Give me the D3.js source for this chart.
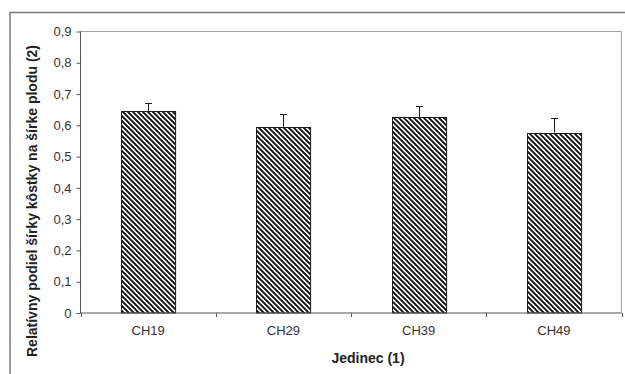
<!DOCTYPE html>
<html>
<head>
<meta charset="utf-8">
<script src="https://cdn.jsdelivr.net/npm/d3@7"></script>
<style>
  body { margin: 0; background: #ffffff; }
  text { font-family: 'Liberation Sans', Arial, sans-serif; }
</style>
</head>
<body>
<script>
const categories = ['CH19', 'CH29', 'CH39', 'CH49'];
const means = [0.645, 0.595, 0.627, 0.577];
const errors = [0.026, 0.042, 0.034, 0.047];
const yTicks = [0, 0.1, 0.2, 0.3, 0.4, 0.5, 0.6, 0.7, 0.8, 0.9];

const width = 625, height = 374;
const plot = { left: 80.5, right: 621.5, top: 31.5, bottom: 313 };

const svg = d3.select('body').append('svg')
  .attr('width', width)
  .attr('height', height);

// hatch pattern (dark downward diagonal)
const tile = 5;
const defs = svg.append('defs');
const pat = defs.append('pattern')
  .attr('id', 'hatch')
  .attr('patternUnits', 'userSpaceOnUse')
  .attr('width', tile)
  .attr('height', tile);
pat.append('rect').attr('width', tile).attr('height', tile).attr('fill', '#f4f4f4');
for (let r = 0; r < tile; r++) {
  for (let k = 0; k < 3; k++) {
    pat.append('rect')
      .attr('x', (r + k) % tile)
      .attr('y', r)
      .attr('width', 1)
      .attr('height', 1)
      .attr('fill', k === 1 ? '#111' : '#444');
  }
}

// outer chart frame
svg.append('path')
  .attr('d', `M10,${height}V12.5H${width}`)
  .attr('fill', 'none')
  .attr('stroke', '#7a7a7a')
  .attr('stroke-width', 1.5);

const x = d3.scaleBand()
  .domain(categories)
  .range([plot.left, plot.right])
  .paddingInner(0.6)
  .paddingOuter(0.3);

const y = d3.scaleLinear()
  .domain([0, 0.9])
  .range([plot.bottom, plot.top]);

// plot area border (top & right)
svg.append('path')
  .attr('d', `M${plot.left},${plot.top}H${plot.right}V${plot.bottom}`)
  .attr('fill', 'none')
  .attr('stroke', '#a0a0a0')
  .attr('stroke-width', 1);

// bars
svg.append('g')
  .selectAll('rect')
  .data(categories)
  .enter()
  .append('rect')
  .attr('x', d => Math.round(x(d)) + 0.5)
  .attr('y', (d, i) => Math.round(y(means[i])) + 0.5)
  .attr('width', x.bandwidth())
  .attr('height', (d, i) => y(0) - Math.round(y(means[i])) - 0.5)
  .attr('fill', 'url(#hatch)')
  .attr('stroke', '#1a1a1a')
  .attr('stroke-width', 1);

// error bars
const eb = svg.append('g').attr('stroke', '#1a1a1a').attr('stroke-width', 1);
categories.forEach((c, i) => {
  const cx = Math.round(x(c) + x.bandwidth() / 2) + 0.5;
  const top = Math.round(y(means[i] + errors[i])) + 0.5;
  eb.append('line')
    .attr('x1', cx).attr('x2', cx)
    .attr('y1', y(means[i])).attr('y2', top);
  eb.append('line')
    .attr('x1', cx - 3.5).attr('x2', cx + 3.5)
    .attr('y1', top).attr('y2', top);
});

// y axis
const yAxis = svg.append('g')
  .attr('transform', `translate(${plot.left},0)`)
  .call(d3.axisLeft(y)
    .tickValues(yTicks)
    .tickSize(4)
    .tickPadding(5)
    .tickFormat(d => d === 0 ? '0' : d3.format('.1f')(d).replace('.', ',')));
yAxis.select('.domain').attr('stroke', '#555').attr('d', `M0,${plot.top}V${plot.bottom}`);
yAxis.selectAll('.tick line').attr('stroke', '#555');
yAxis.selectAll('.tick text')
  .attr('fill', '#333')
  .style('font-size', '13px');

// x axis
const xAxis = svg.append('g')
  .attr('transform', `translate(0,${plot.bottom})`);
xAxis.append('line')
  .attr('x1', plot.left).attr('x2', plot.right)
  .attr('y1', 0).attr('y2', 0)
  .attr('stroke', '#555');
xAxis.selectAll('.xtick')
  .data(d3.range(categories.length + 1))
  .enter()
  .append('line')
  .attr('x1', i => Math.round(plot.left + i * (plot.right - plot.left) / categories.length) + 0.5)
  .attr('x2', i => Math.round(plot.left + i * (plot.right - plot.left) / categories.length) + 0.5)
  .attr('y1', 0).attr('y2', 4)
  .attr('stroke', '#555');
xAxis.selectAll('.xlabel')
  .data(categories)
  .enter()
  .append('text')
  .attr('x', d => x(d) + x.bandwidth() / 2)
  .attr('y', 22)
  .attr('text-anchor', 'middle')
  .attr('fill', '#333')
  .style('font-size', '13px')
  .text(d => d);

// axis titles
svg.append('text')
  .attr('x', 368)
  .attr('y', 363)
  .attr('text-anchor', 'middle')
  .attr('fill', '#222')
  .style('font-size', '14px')
  .style('font-weight', 'bold')
  .text('Jedinec (1)');

svg.append('text')
  .attr('transform', 'translate(37,201) rotate(-90)')
  .attr('text-anchor', 'middle')
  .attr('fill', '#222')
  .style('font-size', '14px')
  .style('font-weight', 'bold')
  .text('Relatívny podiel šírky kôstky na šírke plodu (2)');
</script>
</body>
</html>
